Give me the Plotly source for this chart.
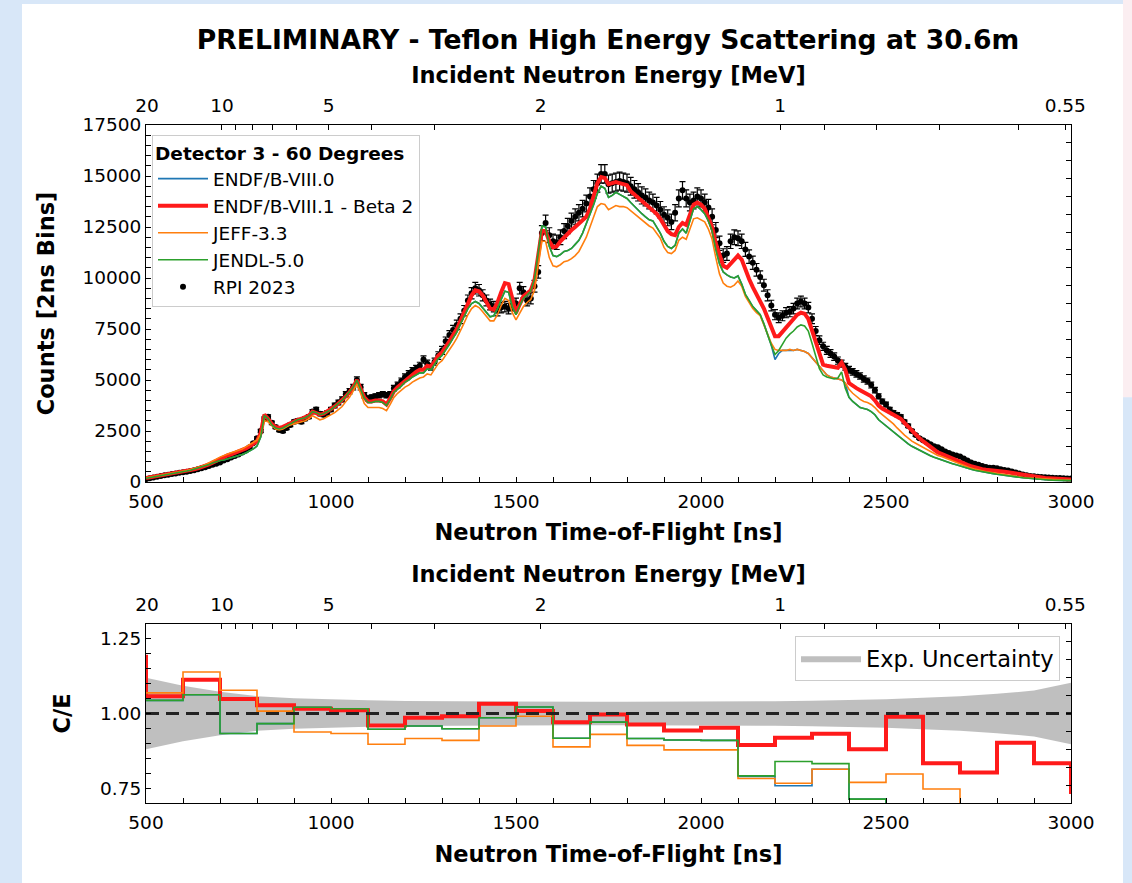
import math
import plotly.graph_objects as go

# ---------------- data ----------------
tof_ns = list(range(500, 3001, 10))  # neutron time-of-flight grid [ns]

rpi_2023 = [
    140, 180, 220, 260, 300, 330, 360, 390, 420, 450,
    480, 500, 540, 580, 620, 670, 720, 780, 840, 900,
    960, 1060, 1120, 1200, 1280, 1350, 1450, 1550, 1700, 1900,
    2150, 2500, 3100, 3200, 2900, 2700, 2550, 2500, 2650, 2800,
    2950, 3000, 2950, 3100, 3200, 3450, 3550, 3350, 3300, 3400,
    3550, 3750, 3900, 4050, 4300, 4450, 4650, 5000, 4650, 4250,
    4100, 4150, 4200, 4250, 4300, 4250, 4300, 4600, 4750, 4950,
    5150, 5300, 5450, 5550, 5700, 6000, 5800, 5650, 5900, 6200,
    6450, 6900, 7200, 7450, 7700, 8000, 8400, 8900, 9250, 9500,
    9400, 9150, 8900, 8700, 8600, 8400, 8550, 8600, 8500, 8650,
    8750, 9500, 9300, 8900, 9000, 9600, 10300, 12200, 12700, 12100,
    11800, 11750, 12000, 12300, 12550, 12800, 13000, 13200, 13400, 13650,
    14000, 14350, 14650, 15100, 15100, 14600, 14650, 14700, 14750, 14700,
    14650, 14500, 14350, 14200, 14050, 13950, 13800, 13700, 13550, 13350,
    13100, 12950, 12750, 13200, 13900, 14300, 13900, 13700, 13800, 14000,
    13900, 13700, 13450, 13000, 12350, 11700, 11100, 11200, 11800, 12000,
    11950, 11800, 11400, 11050, 10750, 10400, 10050, 9650, 9150, 8650,
    8200, 8050, 8150, 8300, 8350, 8500, 8750, 8850, 8750, 8550,
    8000, 7400, 6950, 6650, 6450, 6300, 6150, 5950, 5800, 5650,
    5500, 5400, 5300, 5200, 5050, 4950, 4750, 4500, 4200, 3950,
    3800, 3550, 3400, 3300, 3200, 2950, 2750, 2500, 2300, 2150,
    2050, 1950, 1850, 1750, 1700, 1600, 1500, 1420, 1350, 1300,
    1250, 1150, 1050, 950, 900, 850, 780, 730, 700, 700,
    680, 620, 590, 560, 520, 470, 420, 370, 330, 300,
    280, 260, 240, 230, 220, 210, 200, 190, 180, 175,
    170,
]

endf_b_viii0 = [
    180, 210, 240, 270, 300, 330, 360, 390, 420, 450,
    490, 540, 580, 630, 680, 740, 800, 860, 930, 1000,
    1050, 1080, 1130, 1180, 1230, 1280, 1350, 1420, 1510, 1620,
    1760, 2200, 3250, 3100, 2800, 2650, 2600, 2650, 2750, 2850,
    2950, 3050, 3100, 3150, 3250, 3450, 3400, 3300, 3350, 3450,
    3550, 3700, 3850, 4000, 4200, 4400, 4650, 5000, 4550, 4100,
    3900, 3900, 3950, 3950, 3900, 3750, 4050, 4400, 4550, 4700,
    4900, 5000, 5150, 5250, 5350, 5350, 5550, 5500, 5750, 6050,
    6200, 6450, 6750, 7050, 7350, 7750, 8100, 8500, 8750, 8850,
    8750, 8550, 8300, 8100, 8150, 8500, 8950, 9350, 9300, 8600,
    8200, 8650, 9000, 9200, 9350, 9950, 11200, 12550, 12500, 11550,
    11100, 11050, 11150, 11300, 11350, 11450, 11650, 11850, 12200, 12650,
    13100, 13600, 14150, 14500, 14400, 13950, 14050, 14200, 14100, 14000,
    13900, 13700, 13500, 13300, 13150, 13000, 12850, 12800, 12500, 12200,
    11800, 11550, 11450, 11600, 12200, 12400, 12200, 12800, 13400, 13500,
    13350, 13150, 12800, 12300, 11400, 10700, 10300, 10150, 10050, 10000,
    10100, 9700, 9200, 8900, 8600, 8400, 8200, 7750, 7200, 6700,
    6000, 6300, 6450, 6450, 6450, 6450, 6500, 6450, 6400, 6300,
    6100, 5900, 5650, 5450, 5250, 5150, 5100, 5050, 5000, 4850,
    4150, 3950, 3800, 3650, 3600, 3550, 3450, 3300, 3050, 2900,
    2750, 2600, 2450, 2300, 2150, 2000, 1870, 1750, 1650, 1550,
    1450, 1370, 1290, 1210, 1140, 1080, 1020, 960, 900, 840,
    780, 730, 680, 630, 580, 540, 500, 470, 440, 410,
    380, 350, 320, 290, 270, 250, 230, 210, 190, 170,
    150, 140, 125, 110, 100, 90, 85, 80, 75, 70,
    65,
]

endf_b_viii1_beta2 = [
    200, 230, 260, 290, 320, 350, 380, 410, 440, 470,
    500, 540, 580, 620, 670, 720, 790, 860, 950, 1050,
    1150, 1230, 1300, 1360, 1420, 1480, 1560, 1650, 1750, 1870,
    2000, 2400, 3300, 3100, 2850, 2700, 2650, 2700, 2800, 2900,
    2950, 3050, 3100, 3150, 3250, 3450, 3400, 3300, 3350, 3450,
    3550, 3700, 3850, 4000, 4200, 4400, 4650, 5000, 4600, 4150,
    3950, 3950, 4000, 4000, 3950, 3800, 4100, 4450, 4650, 4800,
    5000, 5100, 5250, 5400, 5500, 5500, 5700, 5650, 5900, 6200,
    6350, 6600, 6900, 7200, 7500, 7900, 8300, 8800, 9150, 9400,
    9350, 9150, 8850, 8500, 8450, 8800, 9300, 9750, 9700, 8900,
    8300, 8700, 9100, 9250, 9400, 9900, 11000, 12300, 12300, 11800,
    11500, 11550, 11800, 12000, 12200, 12350, 12500, 12650, 12800, 13000,
    13400, 14100, 14650, 14950, 14900, 14600, 14650, 14700, 14650, 14600,
    14550, 14250, 14100, 13900, 13750, 13600, 13450, 13350, 13150, 12900,
    12550, 12300, 12150, 12100, 12500, 12700, 12600, 13100, 13600, 13700,
    13600, 13400, 13000, 12500, 11700, 11100, 10600, 10500, 10700, 10900,
    11100, 10900, 10350, 9950, 9550, 9200, 8900, 8500, 8050, 7600,
    7150, 7150, 7350, 7550, 7750, 7950, 8200, 8300, 8250, 8000,
    7450, 7000, 6300, 5750, 5700, 5650, 5600, 5600, 5850, 5500,
    4850, 4700, 4600, 4500, 4400, 4350, 4200, 4000, 3750, 3600,
    3500, 3450, 3300, 3200, 3100, 2900, 2700, 2500, 2300, 2150,
    2000, 1850, 1700, 1600, 1450, 1380, 1300, 1200, 1120, 1050,
    1000, 900, 840, 780, 720, 670, 630, 600, 570, 550,
    530, 520, 500, 480, 450, 410, 370, 330, 300, 270,
    250, 230, 210, 195, 185, 175, 165, 155, 145, 135,
    125,
]

jeff_33 = [
    200, 240, 270, 300, 330, 360, 390, 420, 450, 480,
    520, 560, 610, 660, 710, 770, 850, 930, 1020, 1120,
    1220, 1300, 1370, 1430, 1490, 1540, 1620, 1720, 1820, 1950,
    2050, 2350, 3000, 2950, 2750, 2600, 2550, 2600, 2700, 2800,
    2850, 2900, 2950, 3000, 3100, 3250, 3150, 3050, 3100, 3200,
    3300, 3400, 3550, 3700, 3950, 4150, 4450, 4800, 4350, 3850,
    3650, 3650, 3650, 3650, 3600, 3500, 3800, 4150, 4350, 4500,
    4650, 4750, 4900, 5000, 5100, 5150, 5300, 5250, 5500, 5800,
    5950, 6200, 6450, 6750, 7050, 7400, 7800, 8200, 8500, 8650,
    8550, 8350, 8100, 7900, 7900, 8200, 8650, 9000, 8900, 8300,
    7950, 8300, 8600, 8800, 8950, 9400, 10500, 11800, 11800, 11000,
    10600, 10550, 10650, 10800, 10850, 10950, 11100, 11300, 11650, 12000,
    12500, 13000, 13500, 13650, 13600, 13350, 13450, 13550, 13500, 13500,
    13450, 13300, 13150, 13000, 12850, 12700, 12550, 12450, 12200, 11950,
    11500, 11250, 11200, 11350, 11850, 12000, 11900, 12400, 12900, 12950,
    12850, 12750, 12400, 11900, 11000, 10200, 9750, 9600, 9550, 9650,
    9850, 9600, 9100, 8800, 8500, 8300, 8150, 7700, 7200, 6800,
    6500, 6450, 6450, 6450, 6500, 6450, 6500, 6450, 6400, 6300,
    6100, 5900, 5650, 5450, 5250, 5150, 5100, 5050, 5000, 4850,
    4550, 4350, 4200, 4050, 3950, 3900, 3800, 3650, 3450, 3300,
    3150, 3000, 2850, 2650, 2450, 2300, 2150, 2000, 1900, 1800,
    1700, 1600, 1500, 1400, 1300, 1250, 1180, 1100, 1030, 960,
    900, 800, 740, 680, 630, 580, 540, 500, 470, 440,
    420, 400, 370, 340, 310, 280, 250, 230, 210, 195,
    180, 165, 150, 140, 130, 120, 110, 100, 95, 90,
    85,
]

jendl_50 = [
    180, 210, 240, 270, 300, 330, 360, 390, 420, 450,
    490, 540, 580, 630, 680, 740, 800, 860, 930, 1000,
    1050, 1080, 1130, 1180, 1230, 1280, 1350, 1420, 1510, 1620,
    1760, 2200, 3250, 3100, 2800, 2650, 2600, 2650, 2750, 2850,
    2950, 3050, 3100, 3150, 3250, 3450, 3400, 3300, 3350, 3450,
    3550, 3700, 3850, 4000, 4200, 4400, 4650, 5000, 4550, 4100,
    3900, 3900, 3950, 3950, 3900, 3750, 4050, 4400, 4550, 4700,
    4900, 5000, 5150, 5250, 5350, 5350, 5550, 5500, 5750, 6050,
    6200, 6450, 6750, 7050, 7350, 7750, 8100, 8500, 8750, 8850,
    8750, 8550, 8300, 8100, 8150, 8500, 8950, 9350, 9300, 8600,
    8200, 8650, 9000, 9200, 9350, 9950, 11200, 12550, 12500, 11550,
    11100, 11050, 11150, 11300, 11350, 11450, 11650, 11850, 12200, 12650,
    13100, 13600, 14150, 14500, 14400, 13950, 14050, 14200, 14100, 14000,
    13900, 13700, 13500, 13300, 13150, 13000, 12850, 12800, 12500, 12200,
    11800, 11550, 11450, 11600, 12200, 12400, 12200, 12800, 13400, 13500,
    13350, 13150, 12800, 12300, 11400, 10700, 10300, 10150, 10050, 10000,
    10100, 9700, 9200, 8900, 8600, 8400, 8200, 7750, 7200, 6700,
    6250, 6450, 6750, 7050, 7250, 7400, 7600, 7700, 7650, 7400,
    6800, 6150, 5550, 5250, 5150, 5100, 5050, 5100, 5400, 4600,
    4150, 3950, 3800, 3650, 3600, 3550, 3450, 3300, 3050, 2900,
    2750, 2600, 2450, 2300, 2150, 2000, 1870, 1750, 1650, 1550,
    1450, 1370, 1290, 1210, 1140, 1080, 1020, 960, 900, 840,
    780, 730, 680, 630, 580, 540, 500, 470, 440, 410,
    380, 350, 320, 290, 270, 250, 230, 210, 190, 170,
    150, 140, 125, 110, 100, 90, 85, 80, 75, 70,
    65,
]

# C/E ratios in 100 ns bins (value holds from the listed TOF to the next one)
ce_tof = list(range(400, 3001, 100))
ce_endf_b_viii0 = [1.044, 1.044, 1.063, 0.933, 0.966, 1.021, 1.016, 0.947, 0.958, 0.949,
                   0.986, 1.022, 0.917, 0.971, 0.916, 0.911, 0.910, 0.789, 0.758, 0.813,
                   0.713, 0.64, 0.60, 0.57, 0.55, 0.53, 0.53]
ce_endf_b_viii1 = [1.19, 1.058, 1.113, 1.049, 1.028, 1.016, 1.011, 0.960, 0.986, 0.991,
                   1.033, 1.008, 0.971, 0.997, 0.963, 0.943, 0.952, 0.894, 0.919, 0.932,
                   0.880, 0.989, 0.833, 0.802, 0.902, 0.833, 0.73]
ce_jeff_33 = [1.069, 1.069, 1.139, 1.078, 1.008, 0.938, 0.933, 0.897, 0.916, 0.910,
              0.958, 0.991, 0.888, 0.930, 0.893, 0.878, 0.878, 0.782, 0.766, 0.813,
              0.769, 0.797, 0.747, 0.66, 0.62, 0.60, 0.60]
ce_jendl_50 = [1.044, 1.044, 1.063, 0.933, 0.966, 1.021, 1.016, 0.947, 0.958, 0.949,
               0.986, 1.022, 0.917, 0.971, 0.916, 0.911, 0.910, 0.791, 0.839, 0.832,
               0.713, 0.64, 0.60, 0.57, 0.55, 0.53, 0.53]

# experimental relative uncertainty band
unc_tof = list(range(500, 3001, 100))
unc_rel = [0.120, 0.093, 0.073, 0.058, 0.051, 0.047, 0.044, 0.042, 0.041, 0.040,
           0.040, 0.039, 0.039, 0.039, 0.039, 0.039, 0.040, 0.041, 0.043, 0.045,
           0.048, 0.053, 0.058, 0.066, 0.077, 0.103]

# secondary (energy) axis ticks
energy_mev = [20, 10, 9, 8, 7, 6, 5, 4, 3, 2, 1, 0.9, 0.8, 0.7, 0.6, 0.55]
energy_labels = ['20', '10', '', '', '', '', '5', '', '', '2', '1', '', '', '', '', '0.55']
FLIGHT_PATH_M = 30.6

tof_ticks = list(range(500, 3001, 100))
tof_labels = [str(t) if t % 500 == 0 else '' for t in tof_ticks]
count_ticks = list(range(0, 17501, 500))
count_labels = [str(c) if c % 2500 == 0 else '' for c in count_ticks]
ce_ticks = [0.70, 0.75, 0.80, 0.85, 0.90, 0.95, 1.00, 1.05, 1.10, 1.15, 1.20, 1.25, 1.30]
ce_labels = ['', '0.75', '', '', '', '', '1.00', '', '', '', '', '1.25', '']


def energy_to_tof(e_mev):
    m_n = 939.565
    gamma = 1.0 + e_mev / m_n
    beta = math.sqrt(1.0 - 1.0 / gamma ** 2)
    return FLIGHT_PATH_M / (beta * 0.299792458)


energy_tof = [energy_to_tof(e) for e in energy_mev]

# ---------------- figure ----------------
W, H = 1132, 883
FONT = 'DejaVu Sans'
X0, X1 = 146, 1071
UP_T, UP_B = 125, 482
LO_T, LO_B = 624, 803

C_BLUE = '#1f77b4'
C_RED = '#ff1a1a'
C_ORANGE = '#ff7f0e'
C_GREEN = '#2ca02c'

fig = go.Figure()

# ---- upper panel ----
fig.add_trace(go.Scatter(
    x=tof_ns, y=rpi_2023, mode='markers', name='RPI 2023',
    marker=dict(color='black', size=6),
    error_y=dict(type='percent', value=3, color='black', thickness=1.2, width=3),
    xaxis='x', yaxis='y', legend='legend', legendrank=5))
fig.add_trace(go.Scatter(x=tof_ns, y=endf_b_viii0, mode='lines', name='ENDF/B-VIII.0',
                         line=dict(color=C_BLUE, width=1.6), xaxis='x', yaxis='y', legendrank=1))
fig.add_trace(go.Scatter(x=tof_ns, y=endf_b_viii1_beta2, mode='lines', name='ENDF/B-VIII.1 - Beta 2',
                         line=dict(color=C_RED, width=4), xaxis='x', yaxis='y', legendrank=2))
fig.add_trace(go.Scatter(x=tof_ns, y=jeff_33, mode='lines', name='JEFF-3.3',
                         line=dict(color=C_ORANGE, width=1.6), xaxis='x', yaxis='y', legendrank=3))
fig.add_trace(go.Scatter(x=tof_ns, y=jendl_50, mode='lines', name='JENDL-5.0',
                         line=dict(color=C_GREEN, width=1.6), xaxis='x', yaxis='y', legendrank=4))

# helpers so that the overlaying axes are drawn
for xa, ya in (('x2', 'y'), ('x', 'y3'), ('x4', 'y2'), ('x3', 'y4')):
    fig.add_trace(go.Scatter(x=[None], y=[None], xaxis=xa, yaxis=ya, showlegend=False,
                             hoverinfo='skip', mode='markers'))

# ---- lower panel ----
fig.add_trace(go.Scatter(x=unc_tof, y=[1 + u for u in unc_rel], mode='lines',
                         line=dict(width=0, color='rgba(128,128,128,0.5)'),
                         showlegend=False, hoverinfo='skip', xaxis='x3', yaxis='y2'))
fig.add_trace(go.Scatter(x=unc_tof, y=[1 - u for u in unc_rel], mode='lines', fill='tonexty',
                         fillcolor='rgba(128,128,128,0.5)',
                         line=dict(width=0, color='rgba(128,128,128,0.5)'),
                         name='Exp. Uncertainty', legend='legend2', xaxis='x3', yaxis='y2'))
for vals, col, wd in ((ce_endf_b_viii0, C_BLUE, 1.6), (ce_endf_b_viii1, C_RED, 4),
                      (ce_jeff_33, C_ORANGE, 1.6), (ce_jendl_50, C_GREEN, 1.6)):
    fig.add_trace(go.Scatter(x=ce_tof, y=vals, mode='lines', line=dict(color=col, width=wd, shape='hv'),
                             showlegend=False, xaxis='x3', yaxis='y2'))
fig.add_trace(go.Scatter(x=[500, 3000], y=[1, 1], mode='lines',
                         line=dict(color='#222222', width=3, dash='13px,7px'),
                         showlegend=False, xaxis='x3', yaxis='y2'))

tickfont = dict(family=FONT, size=18.5, color='black')
titlefont = dict(family=FONT, size=22.5, color='black', weight='bold')
ax = dict(showline=True, linecolor='black', linewidth=1, ticks='inside', ticklen=5, tickwidth=1,
          tickcolor='black', showgrid=False, zeroline=False, tickfont=tickfont, automargin=False)
xdom = [X0 / W, X1 / W]
ydom_up = [1 - UP_B / H, 1 - UP_T / H]
ydom_lo = [1 - LO_B / H, 1 - LO_T / H]

bottom_x = dict(ticklabelstandoff=3)
top_x = dict(ticklabelstandoff=5)

fig.update_layout(
    width=W, height=H,
    margin=dict(l=0, r=0, t=0, b=0, autoexpand=False),
    paper_bgcolor='#d8e7f8', plot_bgcolor='white',
    font=dict(family=FONT, color='black'),
    title=dict(text='<b>PRELIMINARY - Teflon High Energy Scattering at 30.6m</b>',
               font=dict(family=FONT, size=26.6, color='black'), automargin=False,
               x=608 / W, xanchor='center', y=1 - 40 / H, yanchor='middle'),
    xaxis=dict(ax, **bottom_x, domain=xdom, range=[500, 3000], anchor='y', tickvals=tof_ticks,
               ticktext=tof_labels,
               title=dict(text='Neutron Time-of-Flight [ns]', font=titlefont, standoff=13)),
    xaxis2=dict(ax, **top_x, overlaying='x', side='top', anchor='y', range=[500, 3000],
                tickvals=energy_tof, ticktext=energy_labels,
                title=dict(text='Incident Neutron Energy [MeV]', font=titlefont, standoff=4)),
    yaxis=dict(ax, domain=ydom_up, range=[0, 17500], anchor='x', tickvals=count_ticks, ticktext=count_labels,
               title=dict(text='Counts [2ns Bins]', font=titlefont, standoff=21)),
    yaxis3=dict(ax, overlaying='y', side='right', anchor='x', range=[0, 17500],
                tickvals=[875 * k for k in range(21)], ticktext=[''] * 21),
    xaxis3=dict(ax, **bottom_x, domain=xdom, range=[500, 3000], anchor='y2', tickvals=tof_ticks,
                ticktext=tof_labels,
                title=dict(text='Neutron Time-of-Flight [ns]', font=titlefont, standoff=14)),
    xaxis4=dict(ax, **top_x, overlaying='x3', side='top', anchor='y2', range=[500, 3000],
                tickvals=energy_tof, ticktext=energy_labels,
                title=dict(text='Incident Neutron Energy [MeV]', font=titlefont, standoff=4)),
    yaxis2=dict(ax, domain=ydom_lo, range=[0.7, 1.3], anchor='x3', tickvals=ce_ticks, ticktext=ce_labels,
                title=dict(text='C/E', font=titlefont, standoff=23)),
    yaxis4=dict(ax, overlaying='y2', side='right', anchor='x3', range=[0.7, 1.3],
                tickvals=[0.7 + 0.06 * k for k in range(11)], ticktext=[''] * 11),
    legend=dict(x=152 / W, y=1 - 135 / H, xanchor='left', yanchor='top',
                bgcolor='rgba(255,255,255,0.85)', bordercolor='#cccccc', borderwidth=1,
                font=dict(family=FONT, size=18.5, color='black'),
                title=dict(text='<b>Detector 3 - 60 Degrees</b>', font=dict(family=FONT, size=18.5)),
                tracegroupgap=0, itemwidth=50),
    legend2=dict(x=1060 / W, y=1 - 636 / H, xanchor='right', yanchor='top',
                 bgcolor='rgba(255,255,255,0.85)', bordercolor='#cccccc', borderwidth=1,
                 font=dict(family=FONT, size=22.5, color='black'), itemwidth=60),
    shapes=[
        dict(type='rect', xref='paper', yref='paper', x0=22 / W, x1=1123 / W, y0=0, y1=1 - 4 / H,
             fillcolor='white', line=dict(width=0), layer='below'),
        dict(type='rect', xref='paper', yref='paper', x0=1123 / W, x1=1, y0=0.55, y1=1,
             fillcolor='#fbeef1', line=dict(width=0), layer='below'),
    ],
)

fig.write_html('out.html')
